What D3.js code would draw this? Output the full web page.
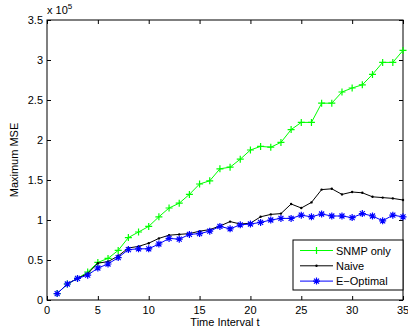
<!DOCTYPE html>
<html>
<head>
<meta charset="utf-8">
<script src="https://cdn.jsdelivr.net/npm/d3@7"></script>
<style>
  body { margin: 0; background: #fff; }
  svg text { font-family: "Liberation Sans", Arial, sans-serif; fill: #000; }
</style>
</head>
<body>
<div id="chart"></div>
<script>
// values in units of 1e5
const t = d3.range(1, 36);
const snmpOnly = [0.08, 0.2, 0.27, 0.35, 0.47, 0.52, 0.62, 0.78, 0.85, 0.92,
  1.04, 1.15, 1.21, 1.32, 1.45, 1.49, 1.64, 1.66, 1.76, 1.875,
  1.92, 1.91, 1.97, 2.13, 2.22, 2.22, 2.46, 2.46, 2.60, 2.65,
  2.69, 2.82, 2.97, 2.97, 3.12];
const naive = [0.08, 0.2, 0.27, 0.33, 0.46, 0.48, 0.55, 0.65, 0.67, 0.71,
  0.77, 0.81, 0.82, 0.83, 0.86, 0.88, 0.925, 0.98, 0.95, 0.96,
  1.04, 1.07, 1.08, 1.20, 1.15, 1.22, 1.38, 1.39, 1.32, 1.35,
  1.34, 1.29, 1.28, 1.27, 1.25];
const eOptimal = [0.08, 0.2, 0.27, 0.31, 0.40, 0.45, 0.53, 0.63, 0.64, 0.64,
  0.70, 0.77, 0.76, 0.82, 0.83, 0.86, 0.92, 0.89, 0.94, 0.95,
  0.97, 1.0, 1.02, 1.02, 1.06, 1.04, 1.075, 1.05, 1.05, 1.03,
  1.08, 1.05, 0.99, 1.06, 1.04];
const xTicks = [0, 5, 10, 15, 20, 25, 30, 35];
const yTicks = [0, 0.5, 1, 1.5, 2, 2.5, 3, 3.5];

const series = [
  { name: 'SNMP only', values: snmpOnly, color: '#00ff00', marker: 'plus' },
  { name: 'Naive', values: naive, color: '#000000', marker: 'dot' },
  { name: 'E\u2212Optimal', values: eOptimal, color: '#0000ff', marker: 'star' }
];

const width = 408;
const height = 329;
const margin = { top: 20, right: 5, bottom: 29, left: 47 };

const svg = d3.select('#chart')
  .append('svg')
  .attr('width', width)
  .attr('height', height);

const x = d3.scaleLinear().domain([0, 35]).range([margin.left, width - margin.right]);
const y = d3.scaleLinear().domain([0, 3.5]).range([height - margin.bottom, margin.top]);

const tickLen = 4;

// axes: ticks point inward, like matlab
svg.append('g')
  .attr('transform', `translate(0,${y(0)})`)
  .call(d3.axisTop(x).tickValues(xTicks).tickSize(tickLen).tickFormat(''))
  .call(g => g.select('.domain').remove());
svg.append('g')
  .attr('transform', `translate(0,${y(3.5)})`)
  .call(d3.axisBottom(x).tickValues(xTicks).tickSize(tickLen).tickFormat(''))
  .call(g => g.select('.domain').remove());
svg.append('g')
  .attr('transform', `translate(${x(0)},0)`)
  .call(d3.axisRight(y).tickValues(yTicks).tickSize(tickLen).tickFormat(''))
  .call(g => g.select('.domain').remove());
svg.append('g')
  .attr('transform', `translate(${x(35)},0)`)
  .call(d3.axisLeft(y).tickValues(yTicks).tickSize(tickLen).tickFormat(''))
  .call(g => g.select('.domain').remove());

// tick labels
svg.append('g').selectAll('text')
  .data(xTicks)
  .enter()
  .append('text')
  .attr('x', d => x(d))
  .attr('y', y(0) + 14)
  .attr('text-anchor', 'middle')
  .style('font-size', '11px')
  .text(d => d);

svg.append('g').selectAll('text')
  .data(yTicks)
  .enter()
  .append('text')
  .attr('x', x(0) - 4)
  .attr('y', d => y(d) + 4)
  .attr('text-anchor', 'end')
  .style('font-size', '11px')
  .text(d => d);

// box
svg.append('rect')
  .attr('x', x(0))
  .attr('y', y(3.5))
  .attr('width', x(35) - x(0))
  .attr('height', y(0) - y(3.5))
  .attr('fill', 'none')
  .attr('stroke', '#000')
  .attr('stroke-width', 1);

// exponent label
const expo = svg.append('text')
  .attr('x', x(0))
  .attr('y', 14)
  .style('font-size', '11px');
expo.append('tspan').text('x 10');
expo.append('tspan').attr('dy', -5).style('font-size', '8px').text('5');

// axis titles
svg.append('text')
  .attr('x', (x(0) + x(35)) / 2)
  .attr('y', height - 3)
  .attr('text-anchor', 'middle')
  .style('font-size', '11px')
  .text('Time Interval t');

svg.append('text')
  .attr('transform', `translate(18,${(y(0) + y(3.5)) / 2}) rotate(-90)`)
  .attr('text-anchor', 'middle')
  .style('font-size', '11px')
  .text('Maximum MSE');

const line = d3.line()
  .x((d, i) => x(t[i]))
  .y(d => y(d));

function drawMarker(g, type, color) {
  if (type === 'plus') {
    g.append('path').attr('d', 'M-3.5,0H3.5M0,-3.5V3.5')
      .attr('stroke', color).attr('stroke-width', 1.2).attr('fill', 'none');
  } else if (type === 'star') {
    g.append('path').attr('d', 'M-3.5,0H3.5M0,-3.5V3.5M-2.5,-2.5L2.5,2.5M-2.5,2.5L2.5,-2.5')
      .attr('stroke', color).attr('stroke-width', 1.2).attr('fill', 'none');
  } else {
    g.append('circle').attr('r', 1.2).attr('fill', color);
  }
}

series.forEach(s => {
  svg.append('path')
    .datum(s.values)
    .attr('fill', 'none')
    .attr('stroke', s.color)
    .attr('stroke-width', 1)
    .attr('d', line);

  svg.append('g').selectAll('g')
    .data(s.values)
    .enter()
    .append('g')
    .attr('transform', (d, i) => `translate(${x(t[i])},${y(d)})`)
    .each(function () { drawMarker(d3.select(this), s.marker, s.color); });
});

// legend
const legend = svg.append('g');
legend.append('rect')
  .attr('x', 293)
  .attr('y', 240)
  .attr('width', x(35) - 293)
  .attr('height', 50)
  .attr('fill', '#fff')
  .attr('stroke', '#000')
  .attr('stroke-width', 1);

series.forEach((s, i) => {
  const ly = 250.5 + i * 15.3;
  legend.append('line')
    .attr('x1', 300).attr('x2', 333)
    .attr('y1', ly).attr('y2', ly)
    .attr('stroke', s.color).attr('stroke-width', 1);
  drawMarker(legend.append('g').attr('transform', `translate(316.5,${ly})`), s.marker, s.color);
  legend.append('text')
    .attr('x', 336)
    .attr('y', ly + 4)
    .style('font-size', '11px')
    .text(s.name);
});
</script>
</body>
</html>
